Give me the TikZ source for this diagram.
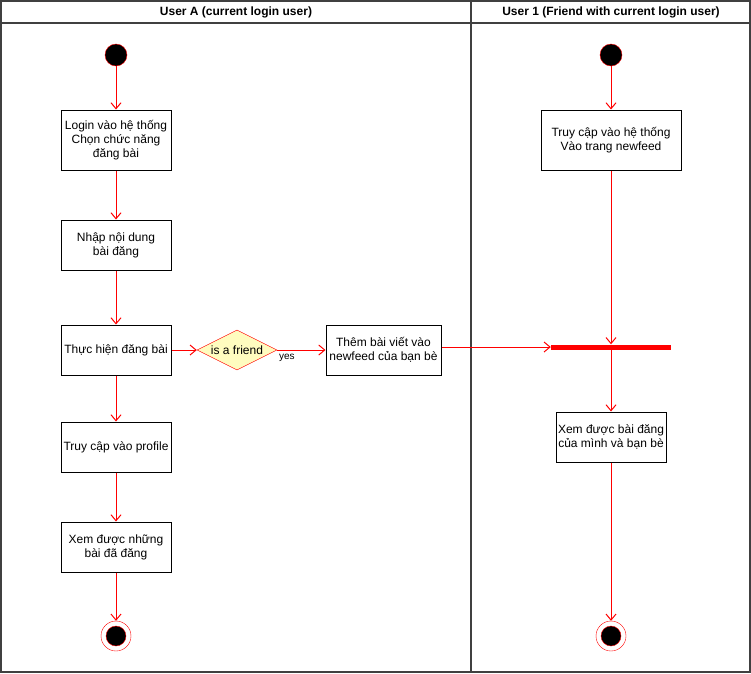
\documentclass[tikz,border=0pt]{standalone}
\usepackage{fontspec}
\setmainfont{Liberation Sans}
\usetikzlibrary{arrows.meta,shapes.geometric}
\begin{document}
\begin{tikzpicture}
[x=1pt,y=-1pt,>={Straight Barb[length=6pt,width=10pt]},font=\fontsize{12}{14}\selectfont,
 lane/.style={draw=black!75,line width=1.3pt},
 start/.style={circle,draw=red,fill=black,minimum size=22pt,inner sep=0pt},
 final/.style={circle,draw=red,fill=white,minimum size=30pt,inner sep=0pt,
   path picture={\filldraw[draw=red,fill=black] (path picture bounding box.center) circle (10pt);}},
 action/.style={draw,line width=1pt,align=center,inner sep=0pt,minimum width=110pt,minimum height=50pt},
 decision/.style={diamond,draw=red,fill=yellow!25,aspect=2,inner sep=1pt,minimum width=80pt,minimum height=40pt},
 bar/.style={fill=red,inner sep=0pt,minimum width=120pt,minimum height=5pt},
 flow/.style={->,red,line width=1pt}]

\useasboundingbox (0,0) rectangle (751,673);

% the swimlanes
\draw[lane] (1,1) rectangle (750,672);
\draw[lane] (1,23) -- (750,23);
\draw[lane] (471,1) -- (471,672);
\node (laneA) at (236,12) {\bfseries User A (current login user)};
\node (lane1) at (611,12) {\bfseries User 1 (Friend with current login user)};

% user A
\node[start] (startA) at (116,55) {};
\node[action] (login) at (116,140) [minimum height=60pt] {Login vào hệ thống\\Chọn chức năng\\đăng bài};
\node[action] (nhap) at (116,245) {Nhập nội dung\\bài đăng};
\node[action] (dang) at (116,350) {Thực hiện đăng bài};
\node[decision] (friend) at (237,350) {is a friend};
\node[action] (them) at (383.5,350) [minimum width=115pt] {Thêm bài viết vào\\newfeed của bạn bè};
\node[action] (profile) at (116,447) {Truy cập vào profile};
\node[action] (xemA) at (116,547) {Xem được những\\bài đã đăng};
\node[final] (endA) at (116,636) {};

% user 1
\node[start] (start1) at (611,55) {};
\node[action] (truycap) at (611,140) [minimum width=140pt,minimum height=60pt] {Truy cập vào hệ thống\\Vào trang newfeed};
\node[bar] (join) at (611,347) {};
\node[action] (xem1) at (611,437) {Xem được bài đăng\\của mình và bạn bè};
\node[final] (end1) at (611,636) {};

% the flows
\draw[flow] (startA) -- (login);
\draw[flow] (login) -- (nhap);
\draw[flow] (nhap) -- (dang);
\draw[flow] (dang) -- (friend);
\draw[flow] (friend) -- node[below,black,font=\fontsize{10}{12}\selectfont,pos=0.2] {yes} (them);
\draw[flow] (dang) -- (profile);
\draw[flow] (profile) -- (xemA);
\draw[flow] (xemA) -- (endA);
\draw[flow] (start1) -- (truycap);
\draw[flow] (truycap) -- (join);
\draw[flow] (them.east |- join.west) -- (join.west);
\draw[flow] (join) -- (xem1);
\draw[flow] (xem1) -- (end1);
\end{tikzpicture}
\end{document}
